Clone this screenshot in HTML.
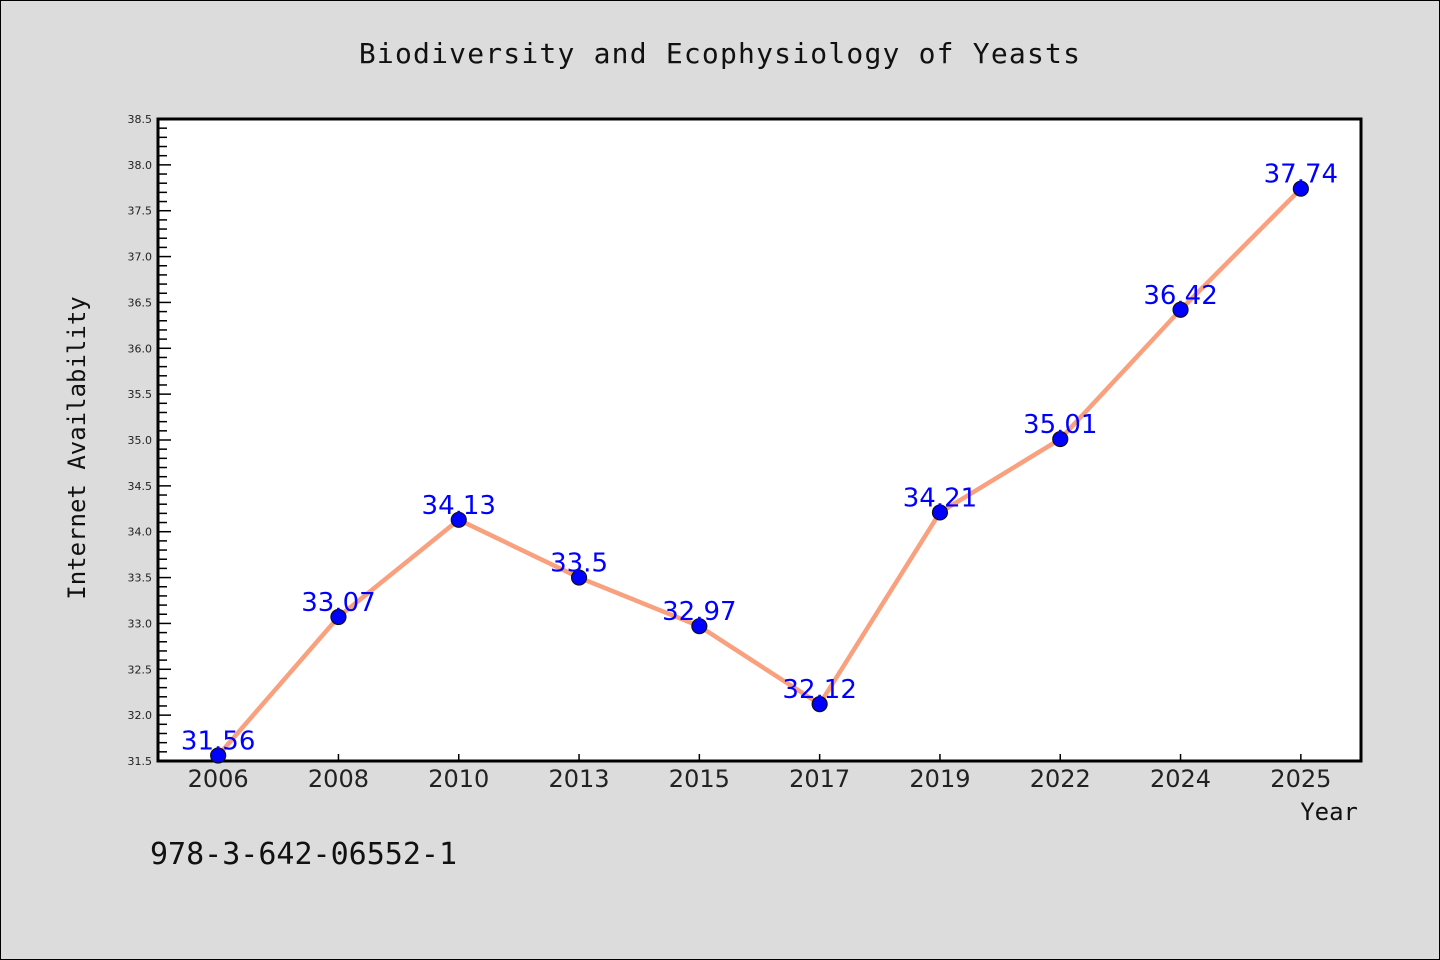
<!DOCTYPE html>
<html><head><meta charset="utf-8"><style>
html,body{margin:0;padding:0;background:#dcdcdc;}
svg{display:block;font-family:"DejaVu Sans Mono","Liberation Mono",monospace;}
</style></head><body>
<svg id="chart" width="1440" height="960" xmlns="http://www.w3.org/2000/svg">
<rect x="0.5" y="0.5" width="1439" height="959" fill="#dcdcdc" stroke="#000" stroke-width="1"/>
<text x="720" y="63" font-size="28" letter-spacing="1.2" text-anchor="middle" fill="#111">Biodiversity and Ecophysiology of Yeasts</text>
<rect x="158" y="119" width="1203" height="642" fill="#fff" stroke="#000" stroke-width="3"/>
<text transform="translate(85,448) rotate(-90)" font-size="24" text-anchor="middle" fill="#111">Internet Availability</text>
<text x="1358" y="820" font-size="24" text-anchor="end" fill="#111">Year</text>
<text x="150" y="864" font-size="30" fill="#111">978-3-642-06552-1</text>
<g id="yticks"></g><g id="xticks"></g><g id="series"></g>
</svg>
<script>
const categories=["2006","2008","2010","2013","2015","2017","2019","2022","2024","2025"];
const values=[31.56,33.07,34.13,33.5,32.97,32.12,34.21,35.01,36.42,37.74];
const yTickLabels=["31.5","32.0","32.5","33.0","33.5","34.0","34.5","35.0","35.5","36.0","36.5","37.0","37.5","38.0","38.5"];
const yMin=31.5,yMax=38.5,pLeft=158,pRight=1361,pTop=119,pBottom=761;
const NS="http://www.w3.org/2000/svg";
function yS(v){return pBottom-(v-yMin)/(yMax-yMin)*(pBottom-pTop);}
const step=(pRight-pLeft)/categories.length;
function xS(i){return pLeft+step*(i+0.5);}
function mk(t,a,p){const e=document.createElementNS(NS,t);for(const k in a)e.setAttribute(k,a[k]);p.appendChild(e);return e;}
const yt=document.getElementById('yticks');
for(let k=0;k<=70;k++){const v=yMin+k*0.1;const major=k%5===0;
 const l=mk('line',{x1:pLeft,x2:pLeft+(major?13:9),y1:yS(v),y2:yS(v),stroke:'#000','stroke-width':1.5},yt);
 
 }
yTickLabels.forEach(s=>{const t=mk('text',{x:pLeft-6,y:yS(parseFloat(s))+4,'font-size':11,'text-anchor':'end',fill:'#222','font-family':'DejaVu Sans, sans-serif'},yt);t.textContent=s;
 
 });
const xt=document.getElementById('xticks');
categories.forEach((c,i)=>{const l=mk('line',{x1:xS(i),x2:xS(i),y1:pBottom,y2:pBottom-7,stroke:'#000','stroke-width':1.5},xt);
 
 
 const t=mk('text',{x:xS(i),y:pBottom+26,'font-size':24,'text-anchor':'middle',fill:'#222','font-family':'DejaVu Sans, sans-serif'},xt);t.textContent=c;
 
 });
const g=document.getElementById('series');
const line=mk('polyline',{points:values.map((v,i)=>xS(i)+','+yS(v)).join(' '),fill:'none',stroke:'#f9a07e','stroke-width':4.5,'stroke-linejoin':'round'},g);


values.forEach((v,i)=>{const c=mk('circle',{cx:xS(i),cy:yS(v),r:7.5,fill:'#0000ff',stroke:'#111','stroke-width':1.2},g);
 
 });
values.forEach((v,i)=>{const t=mk('text',{x:xS(i),y:yS(v)-6,'font-size':26,'text-anchor':'middle',fill:'#0000ff','font-family':'DejaVu Sans, sans-serif'},g);t.textContent=String(v);
 
 });
</script>
</body></html>
